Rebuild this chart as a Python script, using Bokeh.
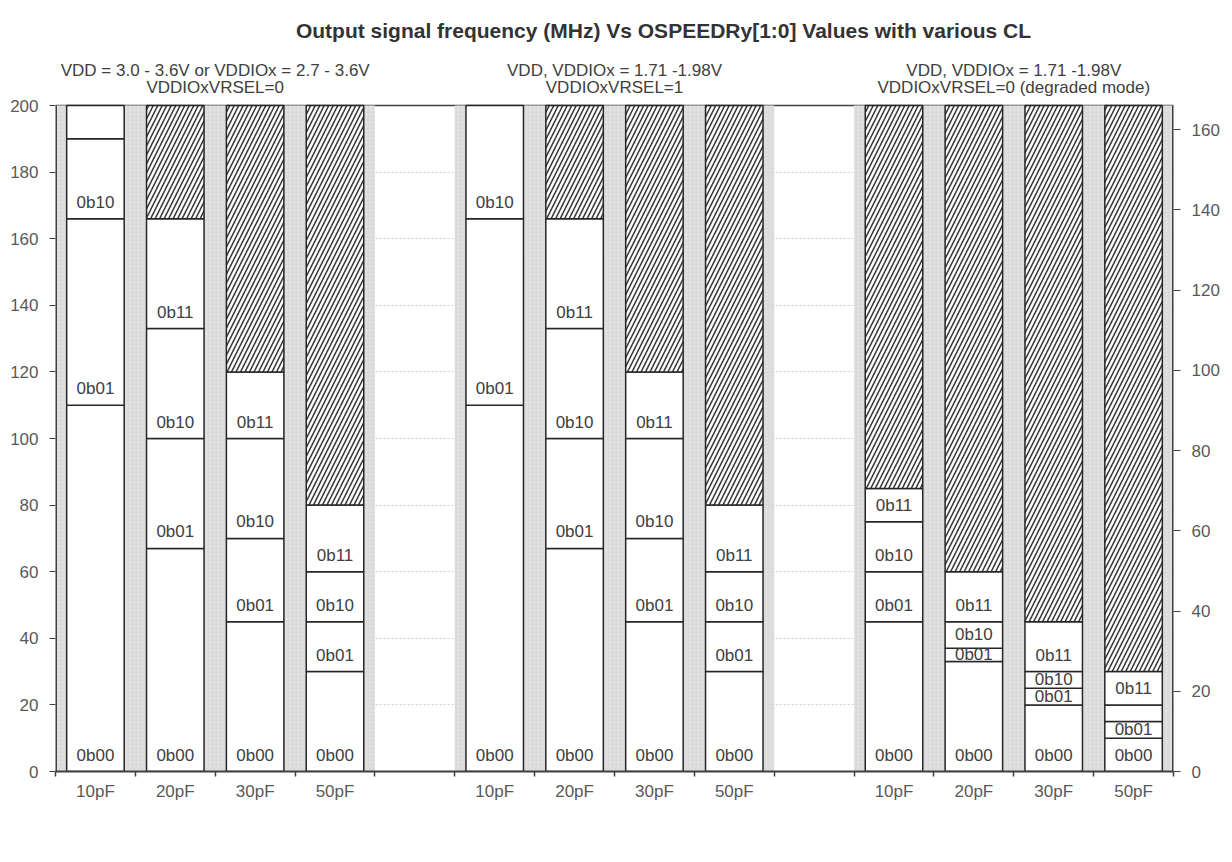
from bokeh.plotting import figure
from bokeh.models import Range1d, LinearAxis, FixedTicker
from bokeh.embed import file_html
from bokeh.resources import INLINE
from bokeh.core.properties import value

# ---------------- data ----------------
title_text = "Output signal frequency (MHz) Vs OSPEEDRy[1:0] Values with various CL"
header_line1 = ["VDD = 3.0 - 3.6V or VDDIOx = 2.7 - 3.6V",
                "VDD, VDDIOx = 1.71 -1.98V",
                "VDD, VDDIOx = 1.71 -1.98V"]
header_line2 = ["VDDIOxVRSEL=0",
                "VDDIOxVRSEL=1",
                "VDDIOxVRSEL=0 (degraded mode)"]
capacitances = ["10pF", "20pF", "30pF", "50pF"]
settings = ["0b00", "0b01", "0b10", "0b11"]

# upper edge (MHz) of each OSPEEDR segment, per load capacitance
g1_tops = [[110, 166, 190, 200], [67, 100, 133, 166], [45, 70, 100, 120], [30, 45, 60, 80]]
g2_tops = [[110, 166, 200], [67, 100, 133, 166], [45, 70, 100, 120], [30, 45, 60, 80]]
g3_tops = [[45, 60, 75, 85], [33, 37, 45, 60], [20, 25, 30, 45], [10, 15, 20, 30]]

# segment labels as printed (empty = not shown)
g1_labels = [["0b00", "0b01", "0b10", ""], settings, settings, settings]
g2_labels = [["0b00", "0b01", "0b10"], settings, settings, settings]
g3_labels = [settings, settings, settings, ["0b00", "0b01", "", "0b11"]]

group_tops = [g1_tops, g2_tops, g3_tops]
group_labels = [g1_labels, g2_labels, g3_labels]

y_max = 200          # left axis top
right_max = 166      # right axis value level with the left axis top
left_ticks = list(range(0, 201, 20))
right_ticks = list(range(0, 161, 20))

# ---------------- layout (screen px) ----------------
W, H = 1224, 848
B_LEFT, B_RIGHT, B_TOP, B_BOTTOM = 55, 51, 5, 77
AXIS_TOP_PX = 105                       # screen y of value 200
FRAME_BOTTOM_PX = H - B_BOTTOM          # 771
frame_h = H - B_TOP - B_BOTTOM
plot_h = FRAME_BOTTOM_PX - AXIS_TOP_PX  # pixels for 0..200
px_per_unit = plot_h / y_max
y_end = frame_h / px_per_unit

FONT = "Liberation Sans"
TXT = "#404040"

p = figure(width=W, height=H, x_range=Range1d(-0.5, 13.5), y_range=Range1d(0, y_end),
           output_backend="svg", toolbar_location=None,
           min_border_left=B_LEFT, min_border_right=B_RIGHT,
           min_border_top=B_TOP, min_border_bottom=B_BOTTOM)
p.title.visible = False
p.background_fill_color = "white"
p.border_fill_color = "white"
p.outline_line_color = None
p.xgrid.grid_line_color = None
p.ygrid.grid_line_color = "#D0D0D0"
p.ygrid.grid_line_dash = "2 2"
p.ygrid.ticker = FixedTicker(ticks=left_ticks)

# top border line at 200
p.segment(x0=[-0.5], y0=[y_max], x1=[13.5], y1=[y_max], line_color="#404040", line_width=1.5)

# gray group bands
for g in range(3):
    p.quad(left=[5 * g - 0.5], right=[5 * g + 3.5], bottom=[0], top=[y_max],
           fill_color="#DBDBDB", line_color=None,
           hatch_pattern="dot", hatch_color="#E6E6E6", hatch_scale=4, hatch_weight=1)

bw = 0.72
lab_x, lab_y, lab_t = [], [], []
lab_off = 16.5 / px_per_unit
for g in range(3):
    for b in range(4):
        xc = 5 * g + b
        tops = group_tops[g][b]
        labs = group_labels[g][b]
        bases = [0] + tops[:-1]
        p.quad(left=[xc - bw / 2] * len(tops), right=[xc + bw / 2] * len(tops),
               bottom=bases, top=tops, fill_color="white",
               line_color="#262626", line_width=1.5)
        if tops[-1] < y_max:
            p.quad(left=[xc - bw / 2], right=[xc + bw / 2], bottom=[tops[-1]], top=[y_max],
                   fill_color="white", hatch_pattern="/", hatch_color="#3A3A3A",
                   hatch_scale=9, hatch_weight=1.6, line_color="#262626", line_width=1.5)
        for lo, hi, t in zip(bases, tops, labs):
            if t:
                lab_x.append(xc)
                lab_y.append(lo + min(lab_off, (hi - lo) / 2))
                lab_t.append(t)

p.text(x=lab_x, y=lab_y, text=lab_t, text_align="center", text_baseline="middle",
       text_font=value(FONT), text_font_size="17px", text_color=TXT)

# vertical axis lines (only from 0 to 200)
p.segment(x0=[-0.5, 13.5], y0=[0, 0], x1=[-0.5, 13.5], y1=[y_max, y_max],
          line_color="#404040", line_width=3)

# title and group headers
def to_units(screen_y):
    return (FRAME_BOTTOM_PX - screen_y) / px_per_unit

hx = [5 * g + 1.5 for g in range(3)]
p.text(x=hx, y=[to_units(70)] * 3, text=header_line1, text_align="center",
       text_baseline="middle", text_font=value(FONT), text_font_size="17px", text_color=TXT)
p.text(x=hx, y=[to_units(87)] * 3, text=header_line2, text_align="center",
       text_baseline="middle", text_font=value(FONT), text_font_size="17px", text_color=TXT)
p.text(x=[(663 - B_LEFT) / ((W - B_LEFT - B_RIGHT) / 14) - 0.5], y=[to_units(30)],
       text=[title_text], text_align="center", text_baseline="middle",
       text_font=value(FONT), text_font_size="21px", text_font_style="bold",
       text_color="#333333")

# axes
centers = [5 * g + b for g in range(3) for b in range(4)]
p.xaxis.ticker = FixedTicker(ticks=centers, minor_ticks=[i - 0.5 for i in range(15)])
p.xaxis.major_label_overrides = {c: capacitances[c % 5] for c in centers}
p.xaxis.major_tick_out = 0
p.xaxis.major_tick_in = 0
p.xaxis.minor_tick_out = 5
p.xaxis.minor_tick_in = 0
p.xaxis.minor_tick_line_color = "#404040"
p.xaxis.minor_tick_line_width = 1.5
p.xaxis.major_label_standoff = 5
p.xaxis.axis_line_color = "#404040"
p.xaxis.axis_line_width = 2

p.yaxis.ticker = FixedTicker(ticks=left_ticks)
p.yaxis.minor_tick_line_color = None
p.yaxis.major_tick_out = 6
p.yaxis.major_tick_in = 0
p.yaxis.major_label_standoff = 11
p.yaxis.axis_line_color = None
p.yaxis.major_tick_line_color = "#404040"

p.extra_y_ranges = {"right": Range1d(0, right_max * y_end / y_max)}
rax = LinearAxis(y_range_name="right", ticker=FixedTicker(ticks=right_ticks))
rax.minor_tick_line_color = None
rax.major_tick_out = 7
rax.major_tick_in = 0
rax.major_label_standoff = 11
rax.axis_line_color = None
rax.major_tick_line_color = "#404040"
p.add_layout(rax, "right")

for ax in [p.xaxis[0], p.yaxis[0], rax]:
    ax.major_label_text_font = FONT
    ax.major_label_text_font_size = "17px"
    ax.major_label_text_color = "#595959"

open("out.html", "w").write(file_html(p, INLINE))
